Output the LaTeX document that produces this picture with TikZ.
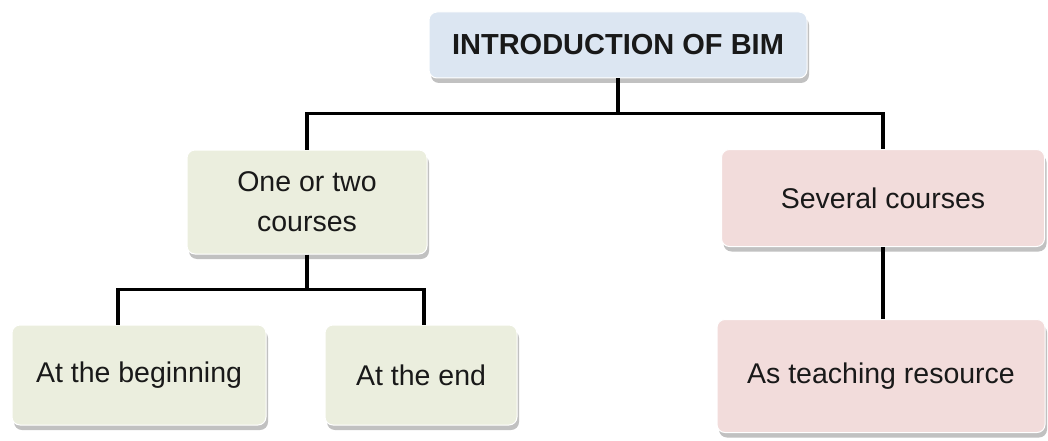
\documentclass[tikz,border=0pt]{standalone}
\usepackage{fontspec}
\setmainfont{Liberation Sans}
\usepackage{tikz}
\usetikzlibrary{positioning, shadows}

\definecolor{topblue}{RGB}{220,230,242}
\definecolor{boxgreen}{RGB}{235,238,222}
\definecolor{boxpink}{RGB}{242,220,219}
\definecolor{inkgray}{RGB}{25,25,25}

\tikzset{
    box/.style={rectangle, rounded corners=8pt, draw=white, line width=1pt,
        text=inkgray, align=center, inner sep=0pt,
        font=\fontsize{28.5}{40}\selectfont,
        drop shadow={shadow xshift=2pt, shadow yshift=-5pt, opacity=0.35, fill=black!70}},
    headbox/.style={box, fill=topblue, font=\fontsize{29}{36}\selectfont\bfseries},
    greenbox/.style={box, fill=boxgreen},
    pinkbox/.style={box, fill=boxpink},
    link/.style={draw=black, line width=3.5pt}
}

\begin{document}
\begin{tikzpicture}[x=1pt, y=-1pt]
    \useasboundingbox (0, 0) rectangle (1048, 441);

    \node[headbox, minimum width=378pt, minimum height=66pt] (intro) at (618, 45) {INTRODUCTION OF BIM};
    \node[greenbox, minimum width=240pt, minimum height=104pt] (one) at (307, 202) {One or two\\courses};
    \node[pinkbox, minimum width=323pt, minimum height=97pt] (several) at (883, 198) {Several courses};
    \node[greenbox, minimum width=254pt, minimum height=100pt] (begin) at (139, 375) {At the beginning};
    \node[greenbox, minimum width=192pt, minimum height=100pt] (end) at (421, 375) {At the end};
    \node[pinkbox, minimum width=328pt, minimum height=113pt] (resource) at (881, 376) {As teaching resource};

    \draw[link] (intro.south) -- ++(0, 35) coordinate (split);
    \draw[link] (one.north) |- (split) -| (several.north);
    \draw[link] (one.south) -- ++(0, 35) coordinate (fork);
    \draw[link] ([xshift=-21pt]begin.north) |- (fork) -| ([xshift=3pt]end.north);
    \draw[link] (several.south) -- (several.south |- resource.north);
\end{tikzpicture}
\end{document}
